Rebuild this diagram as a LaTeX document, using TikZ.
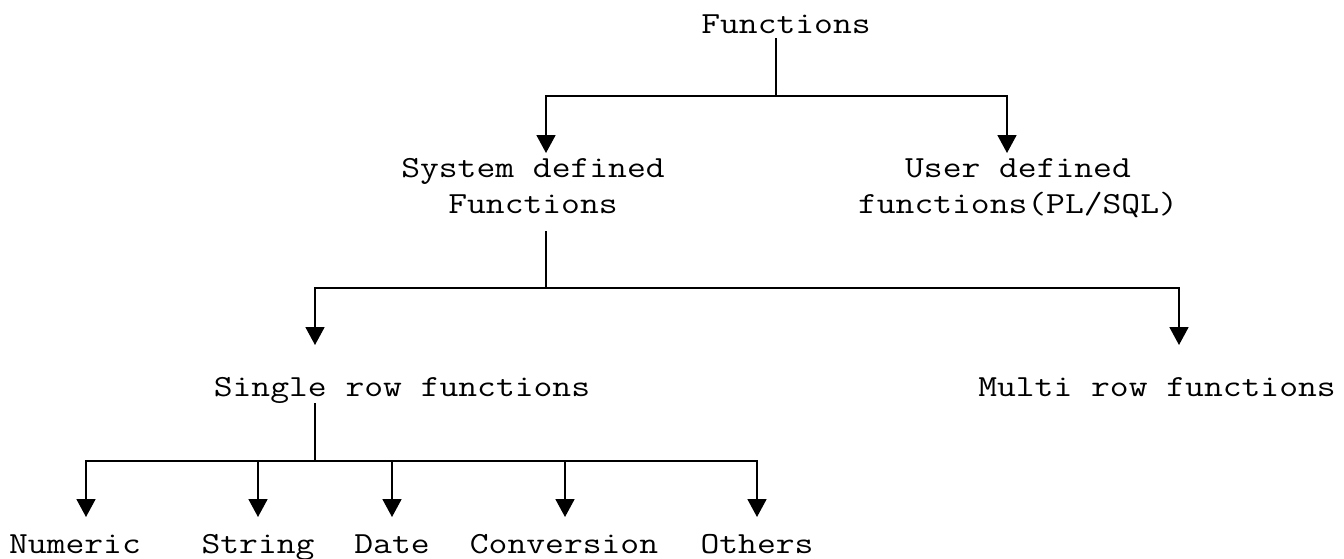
\documentclass[tikz,border=0pt]{standalone}
\usepackage{fontspec}
\setmonofont{Latin Modern Mono}[FakeStretch=1.19]
\usetikzlibrary{arrows.meta,calc}
\begin{document}
\begin{tikzpicture}[x=1pt,y=-1pt,
  lbl/.style={font=\ttfamily\fontsize{30.7}{36}\selectfont, inner sep=0pt, anchor=base, align=center},
  conn/.style={line width=1.8pt},
  arr/.style={conn, -{Triangle[width=19pt,length=18pt]}}]
\useasboundingbox (0,0) rectangle (1344,558);
% labels
\node[lbl] (fn) at (786,33) {Functions};
\node[lbl] (sys) at (533,213) {System defined\\Functions};
\node[lbl] (usr) at (1018,213) {User defined\\functions(PL/SQL)};
\node[lbl] (single) at (402,396) {Single row functions};
\node[lbl] (multi) at (1157,396) {Multi row functions};
\node[lbl] (num) at (75,553) {Numeric};
\node[lbl] (str) at (258,553) {String};
\node[lbl] (date) at (392,553) {Date};
\node[lbl] (conv) at (564,553) {Conversion};
\node[lbl] (oth) at (757,553) {Others};
% junctions
\coordinate (j1) at (776,96);
\coordinate (j2) at (546,288);
\coordinate (j3) at (315,461);
% level 1
\draw[conn] ($(fn.base)+(-10,5)$) -- (j1);
\draw[arr] (j1) -| ($(sys.base)+(13,-60)$);
\draw[arr] (j1) -| ($(usr.base)+(-11,-60)$);
% level 2
\draw[conn] ($(sys.base)+(13,18)$) -- (j2);
\draw[arr] (j2) -| ($(single.base)+(-87,-51)$);
\draw[arr] (j2) -| ($(multi.base)+(22,-51)$);
% level 3
\draw[conn] ($(single.base)+(-87,7)$) -- (j3);
\draw[arr] (j3) -| ($(num.base)+(11,-36)$);
\draw[arr] (j3) -| ($(str.base)+(0,-36)$);
\draw[arr] (j3) -| ($(date.base)+(0,-36)$);
\draw[arr] (j3) -| ($(conv.base)+(1,-36)$);
\draw[arr] (j3) -| ($(oth.base)+(0,-36)$);
\end{tikzpicture}
\end{document}
